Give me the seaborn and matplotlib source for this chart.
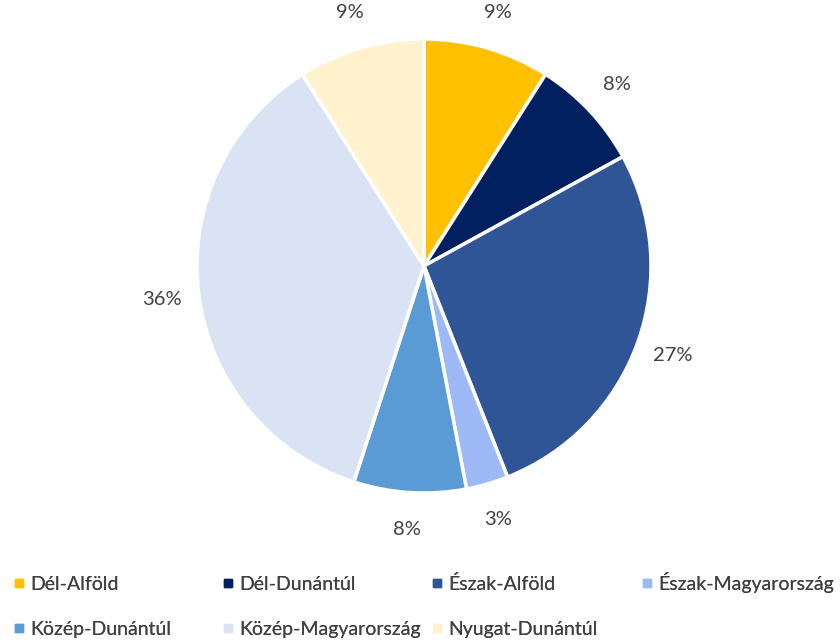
import matplotlib.pyplot as plt
from matplotlib.lines import Line2D
import seaborn as sns

sns.set_style("white")
plt.rcParams['font.family'] = ['Lato', 'DejaVu Sans']

regions = ['Dél-Alföld', 'Dél-Dunántúl', 'Észak-Alföld', 'Észak-Magyarország',
           'Közép-Dunántúl', 'Közép-Magyarország', 'Nyugat-Dunántúl']
shares = [9, 8, 27, 3, 8, 36, 9]
colors = ['#FFC000', '#002060', '#2F5597', '#9DBAF6', '#5B9BD5', '#DAE3F3', '#FFF2CC']

fig = plt.figure(figsize=(8.4, 6.41), dpi=100)
cx, cy, r = 424, 266, 227
ax = fig.add_axes([(cx - r) / 840, (641 - cy - r) / 641, 2 * r / 840, 2 * r / 641])

wedges, texts = ax.pie(shares, colors=colors, startangle=90, counterclock=False,
                       labels=[f'{v}%' for v in shares], labeldistance=1.165,
                       wedgeprops=dict(edgecolor='white', linewidth=2.5),
                       textprops=dict(color='#404040', fontsize=14.5))
for t in texts:
    t.set_ha('center')
    t.set_va('center')
ax.set_xlim(-1, 1)
ax.set_ylim(-1, 1)
ax.set_aspect('equal')

# legend: 4 columns, row-major order, one small legend per column
col_x = [12.7, 221.7, 430.7, 640.7]
col_top = [576, 576, 575, 572]
for j, x in enumerate(col_x):
    idx = [i for i in (j, j + 4) if i < len(regions)]
    handles = [Line2D([], [], marker='s', linestyle='', markersize=5.2,
                      markerfacecolor=colors[i], markeredgecolor=colors[i]) for i in idx]
    labels = [regions[i] for i in idx]
    leg = fig.legend(handles, labels, loc='upper left',
                     bbox_to_anchor=(x / 840, 1 - col_top[j] / 641), frameon=False,
                     fontsize=14, handlelength=0.6, handletextpad=0.3,
                     labelspacing=1.42, labelcolor='#404040', borderaxespad=0,
                     borderpad=0)
    fig.add_artist(leg)

plt.savefig('out.png', dpi=100)
